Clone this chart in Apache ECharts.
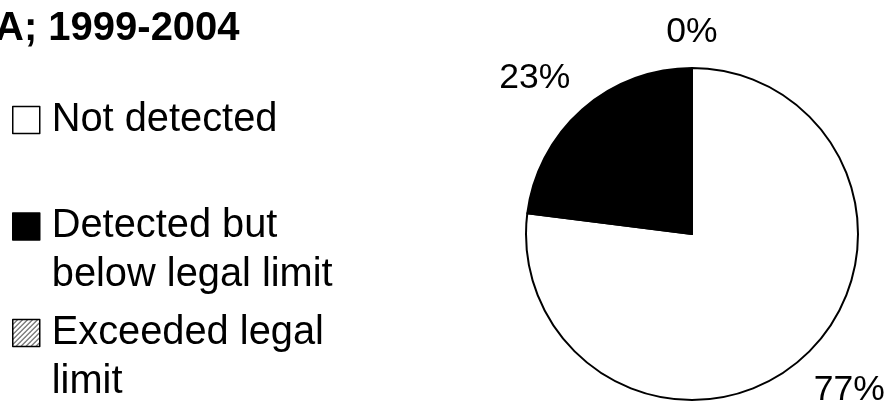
<!DOCTYPE html>
<html>
<head>
<meta charset="utf-8">
<script src="https://cdn.jsdelivr.net/npm/echarts@6/dist/echarts.min.js"></script>
<style>
  html, body { margin: 0; padding: 0; background: #fff; }
  #chart { width: 890px; height: 403px; }
</style>
</head>
<body>
<div id="chart"></div>
<script>
// Sample results, share of samples per outcome (%)
const titleText = 'A; 1999-2004';
const categories = ['Not detected', 'Detected but below legal limit', 'Exceeded legal limit'];
const legendLines = [['Not detected'], ['Detected but', 'below legal limit'], ['Exceeded legal', 'limit']];
const percentages = [77, 23, 0];

const FONT = '"Liberation Sans", Arial, Helvetica, sans-serif';
const LEGEND_LINE = 49;
const LEGEND_ICON = 27;
// vertical centre of each legend key (first text line sits beside it)
const legendKeyCentres = [120, 226.5, 333];

// Diagonal hatch fill used for the "exceeded" category
function hatchPattern() {
  const c = document.createElement('canvas');
  c.width = 5; c.height = 5;
  const g = c.getContext('2d');
  g.fillStyle = '#fff';
  g.fillRect(0, 0, 5, 5);
  g.strokeStyle = '#000';
  g.lineWidth = 1;
  g.beginPath();
  g.moveTo(0, 5); g.lineTo(5, 0);
  g.moveTo(-1, 1); g.lineTo(1, -1);
  g.moveTo(4, 6); g.lineTo(6, 4);
  g.stroke();
  return { image: c, repeat: 'repeat' };
}

const fills = ['#ffffff', '#000000', hatchPattern()];

// Put each percentage just outside the rim, along the slice's mid-angle
function placeLabel(p) {
  const pts = p.labelLinePoints;
  if (!pts || pts.length < 2) return {};
  const a = pts[0], b = pts[1];
  const dx = b[0] - a[0], dy = b[1] - a[1];
  const len = Math.hypot(dx, dy) || 1;
  const nx = dx / len, ny = dy / len;
  return {
    x: b[0],
    y: b[1],
    align: nx > 0.05 ? 'left' : (nx < -0.05 ? 'right' : 'center'),
    verticalAlign: ny > 0.05 ? 'top' : (ny < -0.05 ? 'bottom' : 'middle')
  };
}

// One legend block per category; multi-line entries get a blank line on top
// so that the key lines up with the first line of text.
const legends = categories.map(function (name, i) {
  const lines = legendLines[i];
  const shown = lines.length > 1 ? [' '].concat(lines) : lines;
  const blockHeight = shown.length * LEGEND_LINE + 4;
  return {
    orient: 'vertical',
    left: 12,
    top: legendKeyCentres[i] - blockHeight / 2,
    padding: 0,
    itemWidth: LEGEND_ICON,
    itemHeight: LEGEND_ICON,
    icon: 'rect',
    selectedMode: false,
    textStyle: {
      fontFamily: FONT, fontSize: 39.8, color: '#000',
      lineHeight: LEGEND_LINE, padding: [4, 0, 0, 7]
    },
    formatter: function () { return shown.join('\n'); },
    itemStyle: { borderColor: '#000', borderWidth: 1.5 },
    data: [{ name: name, itemStyle: { color: fills[i], borderColor: '#000', borderWidth: 1.5 } }]
  };
});

const chart = echarts.init(document.getElementById('chart'), null, { renderer: 'canvas' });

chart.setOption({
  animation: false,
  backgroundColor: '#fff',
  title: {
    text: titleText,
    left: -5,
    top: 9,
    padding: 0,
    textStyle: { fontFamily: FONT, fontWeight: 'bold', fontSize: 40, color: '#000' }
  },
  legend: legends,
  series: [{
    type: 'pie',
    center: [692, 234],
    radius: 166,
    startAngle: 90,
    clockwise: true,
    avoidLabelOverlap: false,
    silent: true,
    emphasis: { disabled: true },
    itemStyle: { borderColor: '#000', borderWidth: 2 },
    label: {
      show: true,
      position: 'outside',
      formatter: '{d}%',
      fontFamily: FONT,
      fontSize: 35.5,
      color: '#000'
    },
    labelLine: {
      show: true,
      length: 18,
      length2: 2,
      lineStyle: { color: 'rgba(0,0,0,0)', width: 0 }
    },
    labelLayout: placeLabel,
    data: categories.map(function (name, i) {
      return { name: name, value: percentages[i], itemStyle: { color: fills[i] } };
    })
  }]
});
</script>
</body>
</html>
